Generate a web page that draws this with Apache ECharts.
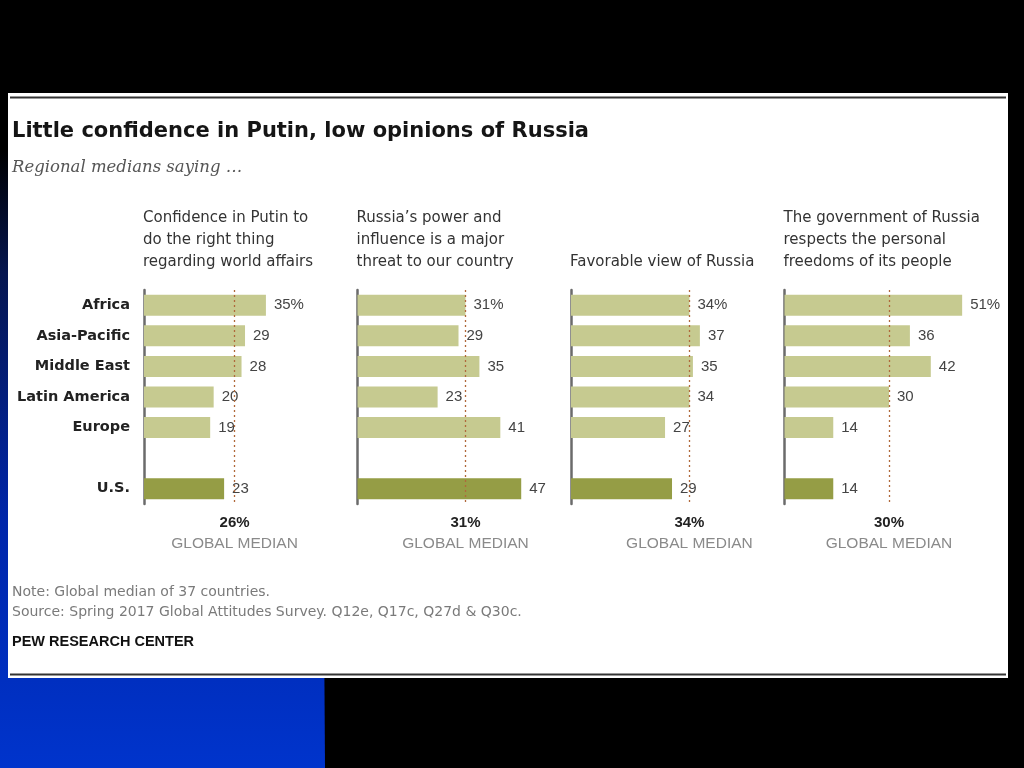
<!DOCTYPE html>
<html>
<head>
<meta charset="utf-8">
<script src="https://cdn.jsdelivr.net/npm/echarts@6/dist/echarts.min.js"></script>
<style>
html,body{margin:0;padding:0;background:#000;}
#c{width:1024px;height:768px;}
</style>
</head>
<body>
<div id="c"></div>
<script>
// ---- data ----
const regions = ['Africa', 'Asia-Pacific', 'Middle East', 'Latin America', 'Europe', '', 'U.S.'];
const confidencePutin = [35, 29, 28, 20, 19, null, 23];
const threatPower = [31, 29, 35, 23, 41, null, 47];
const favorableRussia = [34, 37, 35, 34, 27, null, 29];
const respectsFreedoms = [51, 36, 42, 30, 14, null, 14];
const globalMedians = [26, 31, 34, 30];
const panelTitles = [
  'Confidence in Putin to\ndo the right thing\nregarding world affairs',
  'Russia\u2019s power and\ninfluence is a major\nthreat to our country',
  'Favorable view of Russia',
  'The government of Russia\nrespects the personal\nfreedoms of its people'
];
const titleText = 'Little confidence in Putin, low opinions of Russia';
const subtitleText = 'Regional medians saying \u2026';
const noteText = 'Note: Global median of 37 countries.';
const sourceText = 'Source: Spring 2017 Global Attitudes Survey. Q12e, Q17c, Q27d & Q30c.';
const creditText = 'PEW RESEARCH CENTER';

const panelValues = [confidencePutin, threatPower, favorableRussia, respectsFreedoms];

// ---- layout ----
const panelLeft = [144, 357.5, 571, 784.5];
const gridTop = 290, gridHeight = 214, gridWidth = 209, xMax = 60;
const lightColor = '#c6ca90', usColor = '#959d45';
const sans = '"Liberation Sans", Arial, sans-serif';
const dejavu = '"DejaVu Sans", sans-serif';

const grids = [], xAxes = [], yAxes = [], series = [];
panelValues.forEach((vals, i) => {
  grids.push({left: panelLeft[i], top: gridTop, width: gridWidth, height: gridHeight});
  xAxes.push({type: 'value', gridIndex: i, min: 0, max: xMax, show: false});
  yAxes.push({
    type: 'category', gridIndex: i, data: regions, inverse: true,
    axisLine: {show: true, lineStyle: {color: '#6b6b6b', width: 2.5}},
    axisTick: {show: false},
    axisLabel: {
      show: i === 0, color: '#222', fontFamily: dejavu, fontWeight: 'bold',
      fontSize: 14.5, margin: 14
    }
  });
  series.push({
    type: 'bar', xAxisIndex: i, yAxisIndex: i, barWidth: 21,
    data: vals.map((v, k) => v === null ? null : {
      value: v,
      itemStyle: {color: regions[k] === 'U.S.' ? usColor : lightColor}
    }),
    label: {
      show: true, position: 'right', distance: 8, color: '#444',
      fontFamily: sans, fontSize: 15,
      formatter: p => p.dataIndex === 0 ? p.value + '%' : String(p.value)
    },
    markLine: {
      silent: true, symbol: 'none',
      lineStyle: {color: '#b0683a', type: [2, 3], width: 1.3},
      label: {
        show: true, position: 'end', distance: 9,
        formatter: p => '{b|' + p.value + '%}\n{g|GLOBAL MEDIAN}',
        rich: {
          b: {fontFamily: sans, fontWeight: 'bold', fontSize: 15, color: '#222', lineHeight: 20, align: 'center'},
          g: {fontFamily: sans, fontSize: 15.5, color: '#8a8a8a', lineHeight: 21, align: 'center'}
        }
      },
      data: [{xAxis: globalMedians[i]}]
    }
  });
});

const graphic = [
  // slide background: blue shape fading from black
  {type: 'polygon', silent: true, z: -10,
   shape: {points: [[0, 150], [321, 150], [325, 768], [0, 768]]},
   style: {fill: new echarts.graphic.LinearGradient(0, 0, 0, 1, [
     {offset: 0, color: '#000000'},
     {offset: 0.2, color: '#061650'},
     {offset: 0.6, color: '#0026aa'},
     {offset: 1, color: '#0034cc'}
   ])}},
  // card
  {type: 'rect', silent: true, z: -5, shape: {x: 8, y: 93, width: 1000, height: 585}, style: {fill: '#ffffff'}},
  {type: 'line', silent: true, z: -4, shape: {x1: 10, y1: 97.5, x2: 1006, y2: 97.5}, style: {stroke: '#333', lineWidth: 2}},
  {type: 'line', silent: true, z: -4, shape: {x1: 10, y1: 674.5, x2: 1006, y2: 674.5}, style: {stroke: '#333', lineWidth: 2}},
  {type: 'text', left: 12, top: 121, style: {text: titleText, fill: '#151515', font: 'bold 21px ' + dejavu}},
  {type: 'text', left: 12, top: 159, style: {text: subtitleText, fill: '#555', font: 'italic 16.5px "DejaVu Serif", serif'}},
  {type: 'text', left: 12, top: 585, style: {text: noteText, fill: '#7a7a7a', font: '14px ' + dejavu}},
  {type: 'text', left: 12, top: 605, style: {text: sourceText, fill: '#7a7a7a', font: '14px ' + dejavu}},
  {type: 'text', left: 12, top: 634, style: {text: creditText, fill: '#111', font: 'bold 14.5px ' + sans}}
];
panelTitles.forEach((t, i) => {
  const lines = t.split('\n').length;
  graphic.push({
    type: 'text', left: panelLeft[i] - 1, top: 273 - lines * 22,
    style: {text: t, fill: '#333', font: '15px ' + dejavu, lineHeight: 22}
  });
});

const chart = echarts.init(document.getElementById('c'), null, {renderer: 'canvas'});
chart.setOption({
  backgroundColor: '#000000',
  animation: false,
  grid: grids, xAxis: xAxes, yAxis: yAxes, series: series,
  graphic: graphic
});
</script>
</body>
</html>
